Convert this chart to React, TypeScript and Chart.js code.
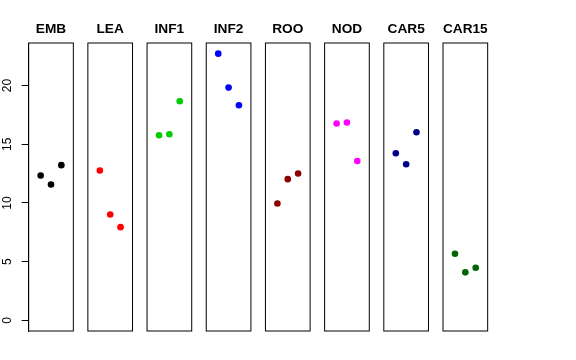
import React, { useEffect, useRef } from "react";
import { Chart, registerables } from "chart.js";

Chart.register(...registerables);

const categories = ["EMB", "LEA", "INF1", "INF2", "ROO", "NOD", "CAR5", "CAR15"];
const embValues = [12.34, 11.57, 13.22];
const leaValues = [12.77, 9.02, 7.94];
const inf1Values = [15.77, 15.86, 18.66];
const inf2Values = [22.72, 19.83, 18.32];
const rooValues = [9.96, 12.03, 12.51];
const nodValues = [16.77, 16.85, 13.58];
const car5Values = [14.24, 13.3, 16.03];
const car15Values = [5.67, 4.09, 4.48];
const seriesValues = [embValues, leaValues, inf1Values, inf2Values, rooValues, nodValues, car5Values, car15Values];
const colors = ["#000000", "#FF0000", "#00CD00", "#0000FF", "#8B0000", "#FF00FF", "#00008B", "#006400"];
const yTicks = [0, 5, 10, 15, 20];
const yMinData = 0;
const yMaxData = 22.72;

const W = 576;
const H = 360;
const PANEL_LEFT0 = 28.67;
const PANEL_STEP = 59.19;
const PANEL_W = 44.67;
const PANEL_TOP = 43;
const PANEL_BOTTOM = 331;
const AXIS_W = 28;

const boxPlugin = {
  id: "panelBox",
  afterDraw(chart: any) {
    const { ctx, chartArea } = chart;
    ctx.save();
    ctx.strokeStyle = "#000";
    ctx.lineWidth = 1;
    ctx.strokeRect(chartArea.left, chartArea.top, chartArea.right - chartArea.left, chartArea.bottom - chartArea.top);
    ctx.restore();
  },
};

function Panel({ index }: { index: number }) {
  const ref = useRef<HTMLCanvasElement>(null);
  useEffect(() => {
    if (!ref.current) return;
    const left = PANEL_LEFT0 + PANEL_STEP * index;
    const right = left + PANEL_W;
    const hasAxis = index === 0;
    const span = yMaxData - yMinData;
    const data = seriesValues[index].map((v, i) => ({ x: i + 1, y: v }));
    const chart = new Chart(ref.current, {
      type: "scatter",
      data: {
        datasets: [
          {
            data,
            backgroundColor: colors[index],
            borderColor: colors[index],
            borderWidth: 0,
            pointRadius: 3.3,
            pointHoverRadius: 3.3,
          },
        ],
      },
      options: {
        responsive: false,
        maintainAspectRatio: false,
        animation: false,
        events: [],
        layout: {
          padding: {
            left: hasAxis ? left - AXIS_W : left,
            right: W - right,
            top: 0,
            bottom: H - PANEL_BOTTOM,
          },
        },
        plugins: {
          legend: { display: false },
          tooltip: { enabled: false },
          title: {
            display: true,
            text: categories[index],
            fullSize: false,
            color: "#000",
            font: { family: "'Liberation Sans', Arial, sans-serif", size: 13.7, weight: "bold", lineHeight: 1.2 },
            padding: { top: PANEL_TOP - 16.44 - 6, bottom: 6 },
          },
        },
        scales: {
          x: {
            type: "linear",
            display: false,
            min: 0 - 4 * 0.04,
            max: 4 + 4 * 0.04,
          },
          y: {
            type: "linear",
            display: hasAxis,
            min: yMinData - span * 0.04,
            max: yMaxData + span * 0.04,
            afterFit: (scale: any) => {
              scale.width = hasAxis ? AXIS_W : 0;
            },
            afterBuildTicks: (scale: any) => {
              scale.ticks = yTicks.map((v) => ({ value: v }));
            },
            border: { display: true, color: "#000", width: 1 },
            grid: { drawOnChartArea: false, drawTicks: true, tickLength: 7, color: "#000", tickColor: "#000" },
            ticks: {
              minRotation: 90,
              maxRotation: 90,
              crossAlign: "center",
              padding: 7.5,
              color: "#000",
              font: { family: "'Liberation Sans', Arial, sans-serif", size: 12 },
            },
          },
        },
      },
      plugins: [boxPlugin],
    });
    return () => chart.destroy();
  }, [index]);
  return (
    <canvas
      ref={ref}
      width={W}
      height={H}
      style={{ position: "absolute", left: 0, top: 0, width: W, height: H }}
    />
  );
}

export default function App() {
  return (
    <div style={{ position: "absolute", left: 0, top: 0, width: W, height: H, background: "#fff" }}>
      {categories.map((_, i) => (
        <Panel key={i} index={i} />
      ))}
    </div>
  );
}
